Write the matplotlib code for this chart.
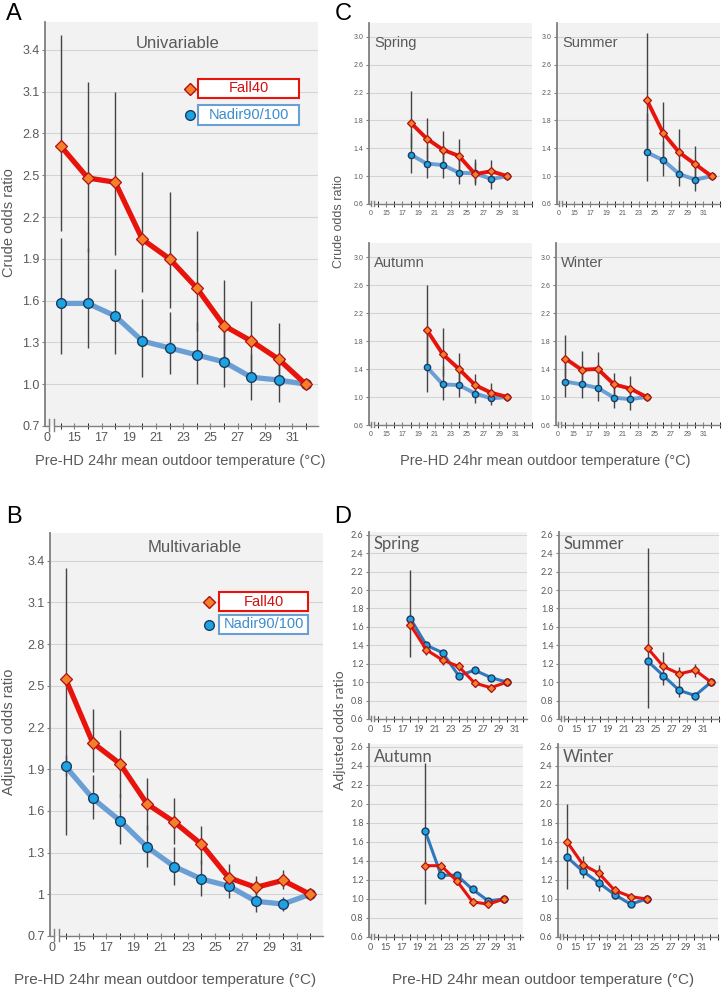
import numpy as np
import matplotlib
matplotlib.use("Agg")
import matplotlib.pyplot as plt
from matplotlib.patches import Rectangle
import matplotlib.transforms as mtransforms

nan = np.nan

# ---- A: univariable (crude) ----
a_x = [14, 16, 18, 20, 22, 24, 26, 28, 30, 32]
a_fall = [2.71, 2.48, 2.45, 2.04, 1.90, 1.69, 1.42, 1.31, 1.18, 1.00]
a_fall_lo = [2.10, 1.95, 1.93, 1.66, 1.55, 1.38, 1.17, 1.08, 0.98, nan]
a_fall_hi = [3.51, 3.17, 3.10, 2.52, 2.38, 2.10, 1.75, 1.60, 1.44, nan]
a_nadir = [1.58, 1.58, 1.49, 1.31, 1.26, 1.21, 1.16, 1.05, 1.03, 1.00]
a_nadir_lo = [1.22, 1.26, 1.22, 1.05, 1.07, 1.00, 0.98, 0.89, 0.87, nan]
a_nadir_hi = [2.05, 1.98, 1.83, 1.61, 1.52, 1.45, 1.38, 1.22, 1.20, nan]

# ---- B: multivariable (adjusted) ----
b_x = [14, 16, 18, 20, 22, 24, 26, 28, 30, 32]
b_fall = [2.55, 2.09, 1.94, 1.65, 1.52, 1.36, 1.12, 1.05, 1.10, 1.00]
b_fall_lo = [1.85, 1.88, 1.70, 1.46, 1.36, 1.22, 1.05, 0.97, 1.04, nan]
b_fall_hi = [3.35, 2.33, 2.18, 1.84, 1.69, 1.49, 1.22, 1.135, 1.175, nan]
b_nadir = [1.92, 1.69, 1.53, 1.34, 1.20, 1.11, 1.06, 0.95, 0.93, 1.00]
b_nadir_lo = [1.43, 1.54, 1.36, 1.20, 1.07, 0.99, 0.97, 0.87, 0.88, nan]
b_nadir_hi = [2.00, 1.86, 1.72, 1.50, 1.34, 1.25, 1.15, 1.04, 0.98, nan]

# ---- C: crude by season ----
cs_x = [18, 20, 22, 24, 26, 28, 30]
cs_fall = [1.77, 1.54, 1.38, 1.29, 1.03, 1.07, 1.00]
cs_fall_lo = [1.40, 1.25, 1.15, 1.07, 0.90, 0.90, nan]
cs_fall_hi = [2.23, 1.84, 1.65, 1.54, 1.24, 1.23, nan]
cs_nadir = [1.31, 1.18, 1.16, 1.05, 1.04, 0.96, 1.00]
cs_nadir_lo = [1.05, 0.97, 0.97, 0.885, 0.875, 0.82, nan]
cs_nadir_hi = [1.62, 1.42, 1.38, 1.25, 1.20, 1.12, nan]

cu_x = [24, 26, 28, 30, 32]
cu_fall = [2.09, 1.62, 1.34, 1.17, 1.00]
cu_fall_lo = [1.40, 1.25, 1.05, 0.95, nan]
cu_fall_hi = [3.05, 2.07, 1.68, 1.44, nan]
cu_nadir = [1.34, 1.23, 1.03, 0.95, 1.00]
cu_nadir_lo = [0.93, 1.00, 0.86, 0.79, nan]
cu_nadir_hi = [1.90, 1.50, 1.22, 1.12, nan]

ca_x = [20, 22, 24, 26, 28, 30]
ca_fall = [1.96, 1.61, 1.40, 1.17, 1.06, 1.00]
ca_fall_lo = [1.48, 1.30, 1.20, 1.02, 0.94, nan]
ca_fall_hi = [2.60, 1.98, 1.63, 1.33, 1.20, nan]
ca_nadir = [1.43, 1.18, 1.17, 1.05, 0.98, 1.00]
ca_nadir_lo = [1.07, 0.96, 1.00, 0.92, 0.88, nan]
ca_nadir_hi = [1.90, 1.45, 1.36, 1.20, 1.10, nan]

cw_x = [14, 16, 18, 20, 22, 24]
cw_fall = [1.55, 1.39, 1.40, 1.18, 1.12, 1.00]
cw_fall_lo = [1.28, 1.16, 1.18, 1.02, 0.96, nan]
cw_fall_hi = [1.88, 1.66, 1.64, 1.34, 1.30, nan]
cw_nadir = [1.22, 1.18, 1.13, 0.99, 0.97, 1.00]
cw_nadir_lo = [1.00, 0.99, 0.95, 0.84, 0.82, nan]
cw_nadir_hi = [1.48, 1.40, 1.35, 1.16, 1.14, nan]

# ---- D: adjusted by season (one CI per point) ----
ds_x = [18, 20, 22, 24, 26, 28, 30]
ds_fall = [1.62, 1.35, 1.24, 1.17, 0.99, 0.94, 1.00]
ds_nadir = [1.69, 1.40, 1.32, 1.07, 1.13, 1.05, 1.00]
ds_lo = [1.27, 1.30, 1.19, 1.12, 0.95, 0.90, nan]
ds_hi = [2.215, 1.40, 1.29, 1.22, 1.03, 0.98, nan]

du_x = [24, 26, 28, 30, 32]
du_fall = [1.37, 1.17, 1.09, 1.13, 1.00]
du_nadir = [1.23, 1.07, 0.91, 0.855, 1.00]
du_lo = [0.715, 0.97, 0.84, 1.06, nan]
du_hi = [2.46, 1.33, 1.165, 1.20, nan]

da_x = [20, 22, 24, 26, 28, 30]
da_fall = [1.35, 1.35, 1.19, 0.97, 0.945, 1.00]
da_nadir = [1.71, 1.25, 1.25, 1.10, 0.98, 1.00]
da_lo = [0.945, nan, nan, 0.94, 0.92, nan]
da_hi = [2.43, nan, nan, 1.00, 0.97, nan]

dw_x = [14, 16, 18, 20, 22, 24]
dw_fall = [1.60, 1.36, 1.27, 1.09, 1.025, 1.00]
dw_nadir = [1.44, 1.29, 1.17, 1.045, 0.945, 1.00]
dw_lo = [1.11, 1.22, 1.085, 1.00, 0.92, nan]
dw_hi = [2.00, 1.45, 1.36, 1.10, 0.98, nan]

xtick_pos = [13, 15, 17, 19, 21, 23, 25, 27, 29, 31]
xtick_lab = ["0", "15", "17", "19", "21", "23", "25", "27", "29", "31"]
xlabel = "Pre-HD 24hr mean outdoor temperature (\u00b0C)"

W, H = 722, 992
RED = "#e8140c"
ORANGE = "#f57f2a"
DKRED = "#b01010"
LBLUE = "#6a9fd6"
DBLUE = "#2f78bd"
CYAN = "#1ba3e2"
NAVY = "#1f3a5f"
GREY = "#595959"
BG = "#f2f2f2"

plt.rcParams["font.family"] = ["Liberation Sans", "DejaVu Sans"]

fig = plt.figure(figsize=(W / 100, H / 100), dpi=100)


def px_axes(l, t, r, b):
    return fig.add_axes([l / W, 1 - b / H, (r - l) / W, (b - t) / H])


def fig_text(x, y, s, **kw):
    fig.text(x / W, 1 - y / H, s, **kw)


def style_axes(ax, xmax, ylim, yticks, ylabels, tsize, font=None):
    ax.set_facecolor(BG)
    ax.set_xlim(12.85, xmax)
    ax.set_ylim(*ylim)
    ax.set_yticks(yticks)
    ax.set_yticklabels(ylabels)
    ax.set_xticks(xtick_pos)
    ax.set_xticklabels(xtick_lab)
    ax.set_xticks(np.arange(14, int(xmax) + 1), minor=True)
    ax.grid(axis="y", color="#d4d4d4", lw=0.8)
    ax.set_axisbelow(True)
    for s in ["top", "right"]:
        ax.spines[s].set_visible(False)
    ax.spines["left"].set_color("#7f7f7f")
    ax.spines["left"].set_linewidth(1.3)
    ax.spines["bottom"].set_color("#7f7f7f")
    ax.spines["bottom"].set_linewidth(1.0)
    ax.spines["bottom"].set_bounds(13.55, xmax)
    ax.tick_params(axis="both", labelsize=tsize, colors="#7f7f7f", labelcolor=GREY, pad=2)
    ax.tick_params(axis="x", which="both", direction="inout", length=4)
    ax.tick_params(axis="y", length=2)
    ax.xaxis.get_major_ticks()[0].tick1line.set_visible(False)
    if font:
        for lab in ax.get_xticklabels() + ax.get_yticklabels():
            lab.set_family(font)
    # axis break marks next to the "0" label
    tr = mtransforms.blended_transform_factory(ax.transData, ax.transAxes)
    ax.plot([12.85, 13.15], [0, 0], color="#7f7f7f", lw=1.0, transform=tr, clip_on=False)
    for bx in (13.15, 13.5):
        ax.plot([bx, bx], [-0.012, 0.018], color="#7f7f7f", lw=1.0, transform=tr, clip_on=False)


def draw_bars(ax, x, lo, hi):
    ax.vlines(x, lo, hi, color="#444444", lw=1.0, zorder=2)


def draw_series(ax, x, fall, nadir, lw, ms, blue_line):
    ax.plot(x, nadir, color=blue_line, lw=lw, marker="o", ms=ms,
            mfc=CYAN, mec=NAVY, mew=1.0, zorder=3, clip_on=False)
    ax.plot(x, fall, color=RED, lw=lw, marker="D", ms=ms * 0.85,
            mfc=ORANGE, mec=DKRED, mew=0.9, zorder=4, clip_on=False)


def legend_boxes(x0, x1, ymid1, ymid2, hgt, mx, fs):
    for ym, lab, ec, fc, mk, mec in [(ymid1, "Fall40", RED, ORANGE, "D", DKRED),
                                     (ymid2, "Nadir90/100", LBLUE, CYAN, "o", NAVY)]:
        fig.patches.append(Rectangle((x0 / W, 1 - (ym + hgt / 2) / H), (x1 - x0) / W, hgt / H,
                                     transform=fig.transFigure, fc="white", ec=ec, lw=1.5))
        col = "#d01010" if lab == "Fall40" else "#3b8ccf"
        fig_text((x0 + x1) / 2, ym, lab, ha="center", va="center", fontsize=fs, color=col)
        fig.lines.append(plt.Line2D([mx / W], [1 - ym / H], transform=fig.transFigure, marker=mk,
                                    ms=7 if mk == "o" else 6, mfc=fc, mec=mec, mew=1.0, ls="none"))


# ---------- Panel A ----------
big_ticks = [0.7, 1.0, 1.3, 1.6, 1.9, 2.2, 2.5, 2.8, 3.1, 3.4]
axA = px_axes(45, 22, 318, 426)
style_axes(axA, 32.9, (0.7, 3.6), big_ticks, [f"{v:.1f}" for v in big_ticks], 9)
draw_bars(axA, a_x, a_fall_lo, a_fall_hi)
draw_bars(axA, a_x, a_nadir_lo, a_nadir_hi)
draw_series(axA, a_x, a_fall, a_nadir, 3.8, 7, LBLUE)
fig_text(178, 44, "Univariable", ha="center", va="center", fontsize=12, color=GREY)
legend_boxes(198, 299, 88.5, 115, 19, 190, 10.5)
fig_text(180, 461, xlabel, ha="center", va="center", fontsize=10.5, color=GREY)
fig_text(9, 223, "Crude odds ratio", ha="center", va="center", rotation=90, fontsize=10.5, color=GREY)
fig_text(14, 14, "A", ha="center", va="center", fontsize=17)

# ---------- Panel B ----------
axB = px_axes(50, 533, 323, 936)
b_labels = ["0.7", "1", "1.3", "1.6", "1.9", "2.2", "2.5", "2.8", "3.1", "3.4"]
style_axes(axB, 32.95, (0.7, 3.6), big_ticks, b_labels, 9)
draw_bars(axB, b_x, b_fall_lo, b_fall_hi)
draw_bars(axB, b_x, b_nadir_lo, b_nadir_hi)
draw_series(axB, b_x, b_fall, b_nadir, 3.8, 7, LBLUE)
fig_text(195, 547, "Multivariable", ha="center", va="center", fontsize=12, color=GREY)
legend_boxes(219, 308, 601.5, 624.5, 19, 209, 10.5)
fig_text(165, 980, xlabel, ha="center", va="center", fontsize=11, color=GREY)
fig_text(9, 732, "Adjusted odds ratio", ha="center", va="center", rotation=90, fontsize=10.5, color=GREY)
fig_text(14, 517, "B", ha="center", va="center", fontsize=17)

# ---------- Panel C ----------
c_ticks = [0.6, 1.0, 1.4, 1.8, 2.2, 2.6, 3.0]
c_panels = [
    ((369, 23, 532, 204), "Spring", cs_x, cs_fall, cs_nadir, cs_fall_lo, cs_fall_hi, cs_nadir_lo, cs_nadir_hi),
    ((557, 23, 720, 204), "Summer", cu_x, cu_fall, cu_nadir, cu_fall_lo, cu_fall_hi, cu_nadir_lo, cu_nadir_hi),
    ((369, 243, 532, 425), "Autumn", ca_x, ca_fall, ca_nadir, ca_fall_lo, ca_fall_hi, ca_nadir_lo, ca_nadir_hi),
    ((556, 243, 720, 425), "Winter", cw_x, cw_fall, cw_nadir, cw_fall_lo, cw_fall_hi, cw_nadir_lo, cw_nadir_hi),
]
for rect, name, x, fall, nadir, flo, fhi, nlo, nhi in c_panels:
    ax = px_axes(*rect)
    style_axes(ax, 33.05, (0.6, 3.2), c_ticks, [f"{v:.1f}" for v in c_ticks], 5)
    draw_bars(ax, x, flo, fhi)
    draw_bars(ax, x, nlo, nhi)
    draw_series(ax, x, fall, nadir, 2.8, 4.5, LBLUE)
    ax.text(0.03, 0.89, name, transform=ax.transAxes, ha="left", va="center", fontsize=10.5, color=GREY)
fig_text(545, 461, xlabel, ha="center", va="center", fontsize=10.5, color=GREY)
fig_text(339, 222, "Crude odds ratio", ha="center", va="center", rotation=90, fontsize=9, color=GREY)
fig_text(343, 14, "C", ha="center", va="center", fontsize=17)

# ---------- Panel D ----------
d_ticks = [0.6, 0.8, 1.0, 1.2, 1.4, 1.6, 1.8, 2.0, 2.2, 2.4, 2.6]
d_font = ["Lato", "DejaVu Sans"]
d_panels = [
    ((369, 532, 527, 719), 32.5, "Spring", ds_x, ds_fall, ds_nadir, ds_lo, ds_hi),
    ((559, 532, 719, 719), 33.0, "Summer", du_x, du_fall, du_nadir, du_lo, du_hi),
    ((369, 744, 523, 937), 32.4, "Autumn", da_x, da_fall, da_nadir, da_lo, da_hi),
    ((558, 744, 718, 937), 33.0, "Winter", dw_x, dw_fall, dw_nadir, dw_lo, dw_hi),
]
for rect, xmax, name, x, fall, nadir, lo, hi in d_panels:
    ax = px_axes(*rect)
    style_axes(ax, xmax, (0.6, 2.63), d_ticks, [f"{v:.1f}" for v in d_ticks], 6.5, font=d_font)
    draw_bars(ax, x, lo, hi)
    draw_series(ax, x, fall, nadir, 2.2, 5, DBLUE)
    ax.text(0.03, 0.935, name, transform=ax.transAxes, ha="left", va="center",
            fontsize=12, color=GREY, family=d_font)
fig_text(543, 980, xlabel, ha="center", va="center", fontsize=11, color=GREY)
fig_text(340, 730, "Adjusted odds ratio", ha="center", va="center", rotation=90, fontsize=10, color=GREY,
         family=d_font)
fig_text(343, 517, "D", ha="center", va="center", fontsize=17)

fig.savefig("out.png", dpi=100)
